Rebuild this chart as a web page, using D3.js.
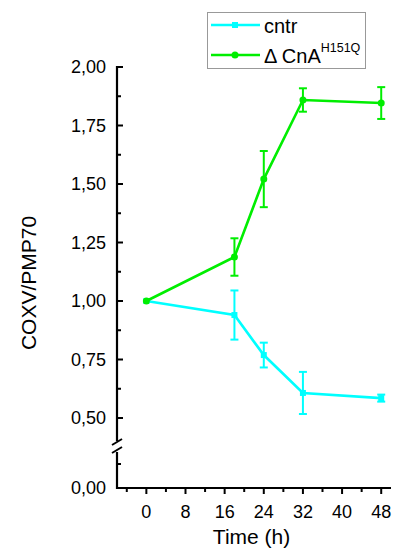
<!DOCTYPE html>
<html lang="en">
  <head>
    <meta charset="UTF-8" />
    <title>COXV/PMP70</title>
    <script src="https://d3js.org/d3.v7.min.js"></script>
    <style>
      body {
        margin: 0;
        background: #fff;
      }
      svg {
        display: block;
        font-family: Arial, "Liberation Sans", sans-serif;
      }
    </style>
  </head>
  <body>
    <svg width="406" height="554"></svg>

    <script>
      const times = [0, 18, 24, 32, 48];
      const cntrValues = [1.0, 0.94, 0.769, 0.607, 0.585];
      const cntrErrors = [0, 0.105, 0.053, 0.09, 0.015];
      const mutValues = [1.0, 1.188, 1.521, 1.859, 1.846];
      const mutErrors = [0, 0.08, 0.12, 0.05, 0.068];
      const xTicks = [0, 8, 16, 24, 32, 40, 48];
      const yTicks = [0, 0.5, 0.75, 1.0, 1.25, 1.5, 1.75, 2.0];

      const cyan = "#00ffff";
      const green = "#00ee00";

      const svg = d3.select("svg");

      const x = d3.scaleLinear().domain([-6, 50]).range([117, 391]);
      // broken axis: lower segment 0..0.125, upper 0.5..2
      const y = d3
        .scaleLinear()
        .domain([0, 0.125, 0.5, 2.0])
        .range([488, 464, 418, 67]);

      const fmt = (d) => d3.format(".2f")(d).replace(".", ",");

      // y axis
      const yAxis = svg.append("g").attr("transform", "translate(117,0)");
      yAxis
        .selectAll(".maj")
        .data(yTicks)
        .enter()
        .append("line")
        .attr("x1", 0)
        .attr("x2", 6)
        .attr("y1", (d) => y(d))
        .attr("y2", (d) => y(d))
        .attr("stroke", "#000")
        .attr("stroke-width", 2);
      const yMinor = [0.125, 0.625, 0.875, 1.125, 1.375, 1.625, 1.875];
      yAxis
        .selectAll(".min")
        .data(yMinor)
        .enter()
        .append("line")
        .attr("x1", 0)
        .attr("x2", 4)
        .attr("y1", (d) => y(d))
        .attr("y2", (d) => y(d))
        .attr("stroke", "#000")
        .attr("stroke-width", 2);
      yAxis
        .selectAll("text")
        .data(yTicks)
        .enter()
        .append("text")
        .attr("x", -11)
        .attr("y", (d) => y(d))
        .attr("dy", "0.36em")
        .attr("text-anchor", "end")
        .attr("font-size", 18)
        .text(fmt);
      // axis line with a gap for the break
      yAxis
        .append("line")
        .attr("y1", y(2.0) - 1)
        .attr("y2", 441)
        .attr("stroke", "#000")
        .attr("stroke-width", 2.2);
      yAxis
        .append("line")
        .attr("y1", 452)
        .attr("y2", y(0) + 1)
        .attr("stroke", "#000")
        .attr("stroke-width", 2.2);
      [442, 450].forEach((yy) => {
        yAxis
          .append("line")
          .attr("x1", -5)
          .attr("x2", 5)
          .attr("y1", yy + 3)
          .attr("y2", yy - 3)
          .attr("stroke", "#000")
          .attr("stroke-width", 2);
      });

      // x axis
      const xAxis = svg.append("g").attr("transform", `translate(0,${y(0)})`);
      xAxis
        .append("line")
        .attr("x1", 116)
        .attr("x2", x(50))
        .attr("stroke", "#000")
        .attr("stroke-width", 2.2);
      const xMinor = d3.range(-4, 50, 8);
      xAxis
        .selectAll(".maj")
        .data(xTicks)
        .enter()
        .append("line")
        .attr("x1", (d) => x(d))
        .attr("x2", (d) => x(d))
        .attr("y1", 0)
        .attr("y2", 6)
        .attr("stroke", "#000")
        .attr("stroke-width", 2);
      xAxis
        .selectAll(".min")
        .data(xMinor)
        .enter()
        .append("line")
        .attr("x1", (d) => x(d))
        .attr("x2", (d) => x(d))
        .attr("y1", 0)
        .attr("y2", 4)
        .attr("stroke", "#000")
        .attr("stroke-width", 2);
      xAxis
        .selectAll("text")
        .data(xTicks)
        .enter()
        .append("text")
        .attr("x", (d) => x(d))
        .attr("y", 30)
        .attr("text-anchor", "middle")
        .attr("font-size", 18)
        .text((d) => d);

      // axis titles
      svg
        .append("text")
        .attr("x", x(21.5))
        .attr("y", 544)
        .attr("text-anchor", "middle")
        .attr("font-size", 21)
        .text("Time (h)");
      svg
        .append("text")
        .attr("transform", "translate(36,283) rotate(-90)")
        .attr("text-anchor", "middle")
        .attr("font-size", 21)
        .text("COXV/PMP70");

      // series
      function drawSeries(vals, errs, color, marker) {
        const pts = times.map((t, i) => ({ t, v: vals[i], e: errs[i] }));
        const g = svg.append("g");
        g.append("path")
          .datum(pts)
          .attr("fill", "none")
          .attr("stroke", color)
          .attr("stroke-width", 2.6)
          .attr(
            "d",
            d3
              .line()
              .x((d) => x(d.t))
              .y((d) => y(d.v))
          );
        const eb = g
          .selectAll(".err")
          .data(pts.filter((d) => d.e > 0))
          .enter()
          .append("g")
          .attr("stroke", color)
          .attr("stroke-width", 2);
        eb.append("line")
          .attr("x1", (d) => x(d.t))
          .attr("x2", (d) => x(d.t))
          .attr("y1", (d) => y(d.v + d.e))
          .attr("y2", (d) => y(d.v - d.e));
        [1, -1].forEach((s) => {
          eb.append("line")
            .attr("x1", (d) => x(d.t) - 4)
            .attr("x2", (d) => x(d.t) + 4)
            .attr("y1", (d) => y(d.v + s * d.e))
            .attr("y2", (d) => y(d.v + s * d.e));
        });
        if (marker === "square") {
          g.selectAll(".mk")
            .data(pts)
            .enter()
            .append("rect")
            .attr("x", (d) => x(d.t) - 3)
            .attr("y", (d) => y(d.v) - 3)
            .attr("width", 6)
            .attr("height", 6)
            .attr("fill", color);
        } else {
          g.selectAll(".mk")
            .data(pts)
            .enter()
            .append("circle")
            .attr("cx", (d) => x(d.t))
            .attr("cy", (d) => y(d.v))
            .attr("r", 3.5)
            .attr("fill", color);
        }
      }

      drawSeries(cntrValues, cntrErrors, cyan, "square");
      drawSeries(mutValues, mutErrors, green, "circle");

      // legend
      const lg = svg.append("g");
      lg.append("rect")
        .attr("x", 207.5)
        .attr("y", 12.5)
        .attr("width", 158)
        .attr("height", 56)
        .attr("fill", "#fff")
        .attr("stroke", "#999")
        .attr("stroke-width", 1);
      const items = [
        { color: cyan, marker: "square", y: 25 },
        { color: green, marker: "circle", y: 55 },
      ];
      items.forEach((it) => {
        lg.append("line")
          .attr("x1", 211)
          .attr("x2", 260)
          .attr("y1", it.y)
          .attr("y2", it.y)
          .attr("stroke", it.color)
          .attr("stroke-width", 2.6);
        if (it.marker === "square") {
          lg.append("rect")
            .attr("x", 232)
            .attr("y", it.y - 3)
            .attr("width", 6)
            .attr("height", 6)
            .attr("fill", it.color);
        } else {
          lg.append("circle")
            .attr("cx", 235)
            .attr("cy", it.y)
            .attr("r", 3.5)
            .attr("fill", it.color);
        }
      });
      lg.append("text")
        .attr("x", 264)
        .attr("y", 33)
        .attr("font-size", 20)
        .text("cntr");
      const t2 = lg
        .append("text")
        .attr("x", 264)
        .attr("y", 63)
        .attr("font-size", 20);
      t2.append("tspan").text("\u0394 CnA");
      t2.append("tspan")
        .attr("font-size", 12.5)
        .attr("dy", -11)
        .text("H151Q");
    </script>
  </body>
</html>
